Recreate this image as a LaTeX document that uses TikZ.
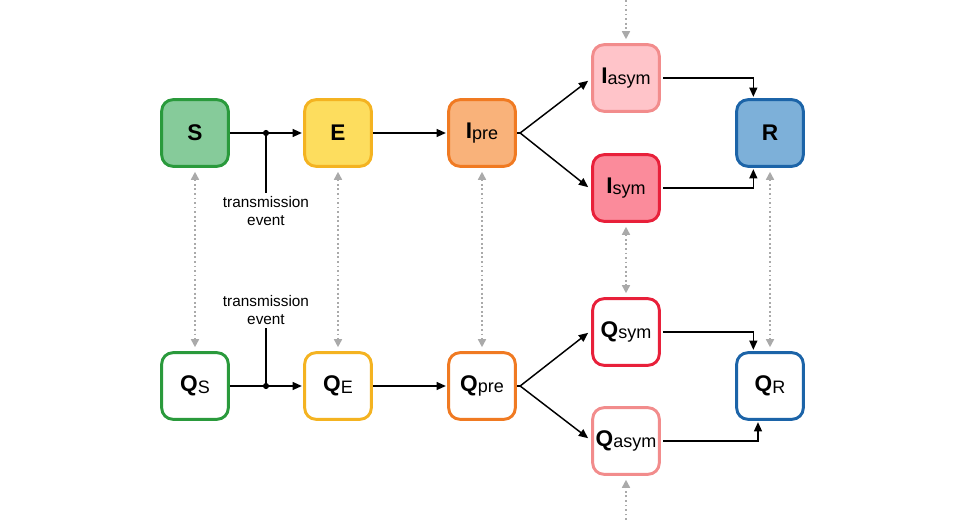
\documentclass[tikz,border=0pt]{standalone}
\usepackage{fontspec}
\setmainfont{Liberation Sans}
\usetikzlibrary{arrows.meta}
\definecolor{Sdraw}{HTML}{2A9A3C}\definecolor{Sfill}{HTML}{86CB9A}
\definecolor{Edraw}{HTML}{F4B321}\definecolor{Efill}{HTML}{FDDD5E}
\definecolor{Pdraw}{HTML}{F07A22}\definecolor{Pfill}{HTML}{F9B27A}
\definecolor{Adraw}{HTML}{F28C8C}\definecolor{Afill}{HTML}{FFC4C9}
\definecolor{Ydraw}{HTML}{E8203A}\definecolor{Yfill}{HTML}{FB8B9B}
\definecolor{Rdraw}{HTML}{1C64A8}\definecolor{Rfill}{HTML}{7DB0D9}
\definecolor{dotgray}{HTML}{AAAAAA}
\newcommand\lsub[1]{\raisebox{-1.2pt}{\fontsize{13.5pt}{15pt}\selectfont\mdseries #1}}
\begin{document}
\begin{tikzpicture}[x=0.75pt,y=-0.75pt,
 box/.style={draw, line width=2.2pt, rounded corners=8.5pt, minimum size=50pt, inner sep=0pt, fill=white, font=\fontsize{17pt}{20pt}\selectfont\bfseries},
 flow/.style={line width=1.1pt, -{Triangle[length=7pt,width=6pt]}, shorten >=1pt},
 link/.style={line width=1.2pt, dotgray, dash pattern=on 1.4pt off 2pt, {Triangle[length=6pt,width=6pt]}-{Triangle[length=6pt,width=6pt]}, shorten >=3pt, shorten <=3pt},
 linkone/.style={line width=1.2pt, dotgray, dash pattern=on 1.4pt off 2pt, -{Triangle[length=6pt,width=6pt]}, shorten >=3pt},
 ttext/.style={align=center, font=\fontsize{11.5pt}{13.5pt}\selectfont, inner sep=2pt}]
\useasboundingbox (0,0) rectangle (960,520);
% top row
\node[box, fill=Sfill, draw=Sdraw] (S) at (195,133) {S};
\node[box, fill=Efill, draw=Edraw] (E) at (338,133) {E};
\node[box, fill=Pfill, draw=Pdraw] (Ipre) at (482,133) {I\lsub{pre}};
\node[box, fill=Afill, draw=Adraw] (Iasym) at (626,78) {I\lsub{asym}};
\node[box, fill=Yfill, draw=Ydraw] (Isym) at (626,188) {I\lsub{sym}};
\node[box, fill=Rfill, draw=Rdraw] (R) at (770,133) {R};
% bottom row
\node[box, draw=Sdraw] (QS) at (195,386) {Q\lsub{S}};
\node[box, draw=Edraw] (QE) at (338,386) {Q\lsub{E}};
\node[box, draw=Pdraw] (Qpre) at (482,386) {Q\lsub{pre}};
\node[box, draw=Ydraw] (Qsym) at (626,332) {Q\lsub{sym}};
\node[box, draw=Adraw] (Qasym) at (626,441) {Q\lsub{asym}};
\node[box, draw=Rdraw] (QR) at (770,386) {Q\lsub{R}};
% transmission events
\coordinate (t1) at (266,133);
\coordinate (t2) at (266,386);
\node[ttext, anchor=north] (tx1) at (266,193) {transmission\\event};
\node[ttext, anchor=south] (tx2) at (266,328) {transmission\\event};
\draw[flow] (S) -- (E);
\draw[flow] (QS) -- (QE);
\draw[line width=1.1pt] (t1) -- (tx1.north);
\draw[line width=1.1pt] (t2) -- (tx2.south);
\fill (t1) circle (2.3pt);
\fill (t2) circle (2.3pt);
% flows
\draw[flow] (E) -- (Ipre);
\draw[flow] (QE) -- (Qpre);
\coordinate (pj) at ([xshift=2.5pt]Ipre.east);
\coordinate (qj) at ([xshift=2.5pt]Qpre.east);
\draw[flow] (pj) -- ([xshift=-1.5pt,yshift=-1.5pt]Iasym.west);
\draw[flow] (pj) -- ([xshift=-1.5pt]Isym.west);
\draw[flow] (qj) -- ([xshift=-1.5pt]Qsym.west);
\draw[flow] (qj) -- ([xshift=-1.5pt,yshift=1.5pt]Qasym.west);
\draw[line width=1.1pt] (pj) -- (Ipre.east);
\draw[line width=1.1pt] (qj) -- (Qpre.east);
\draw[flow] ([xshift=2pt]Iasym.east) -| ([xshift=-12.5pt]R.north);
\draw[flow] ([xshift=2pt]Isym.east) -| ([xshift=-12.5pt]R.south);
\draw[flow] ([xshift=2pt]Qsym.east) -| ([xshift=-12.5pt]QR.north);
\draw[flow] ([xshift=2pt]Qasym.east) -| ([xshift=-9pt]QR.south);
% quarantine links
\draw[link] (S) -- (QS);
\draw[link] (E) -- (QE);
\draw[link] (Ipre) -- (Qpre);
\draw[link] (Isym) -- (Qsym);
\draw[link] (R) -- (QR);
\coordinate (topin) at (626,0);
\coordinate (botin) at (626,520);
\draw[linkone] (topin) -- (Iasym);
\draw[linkone] (botin) -- (Qasym);
\end{tikzpicture}
\end{document}
